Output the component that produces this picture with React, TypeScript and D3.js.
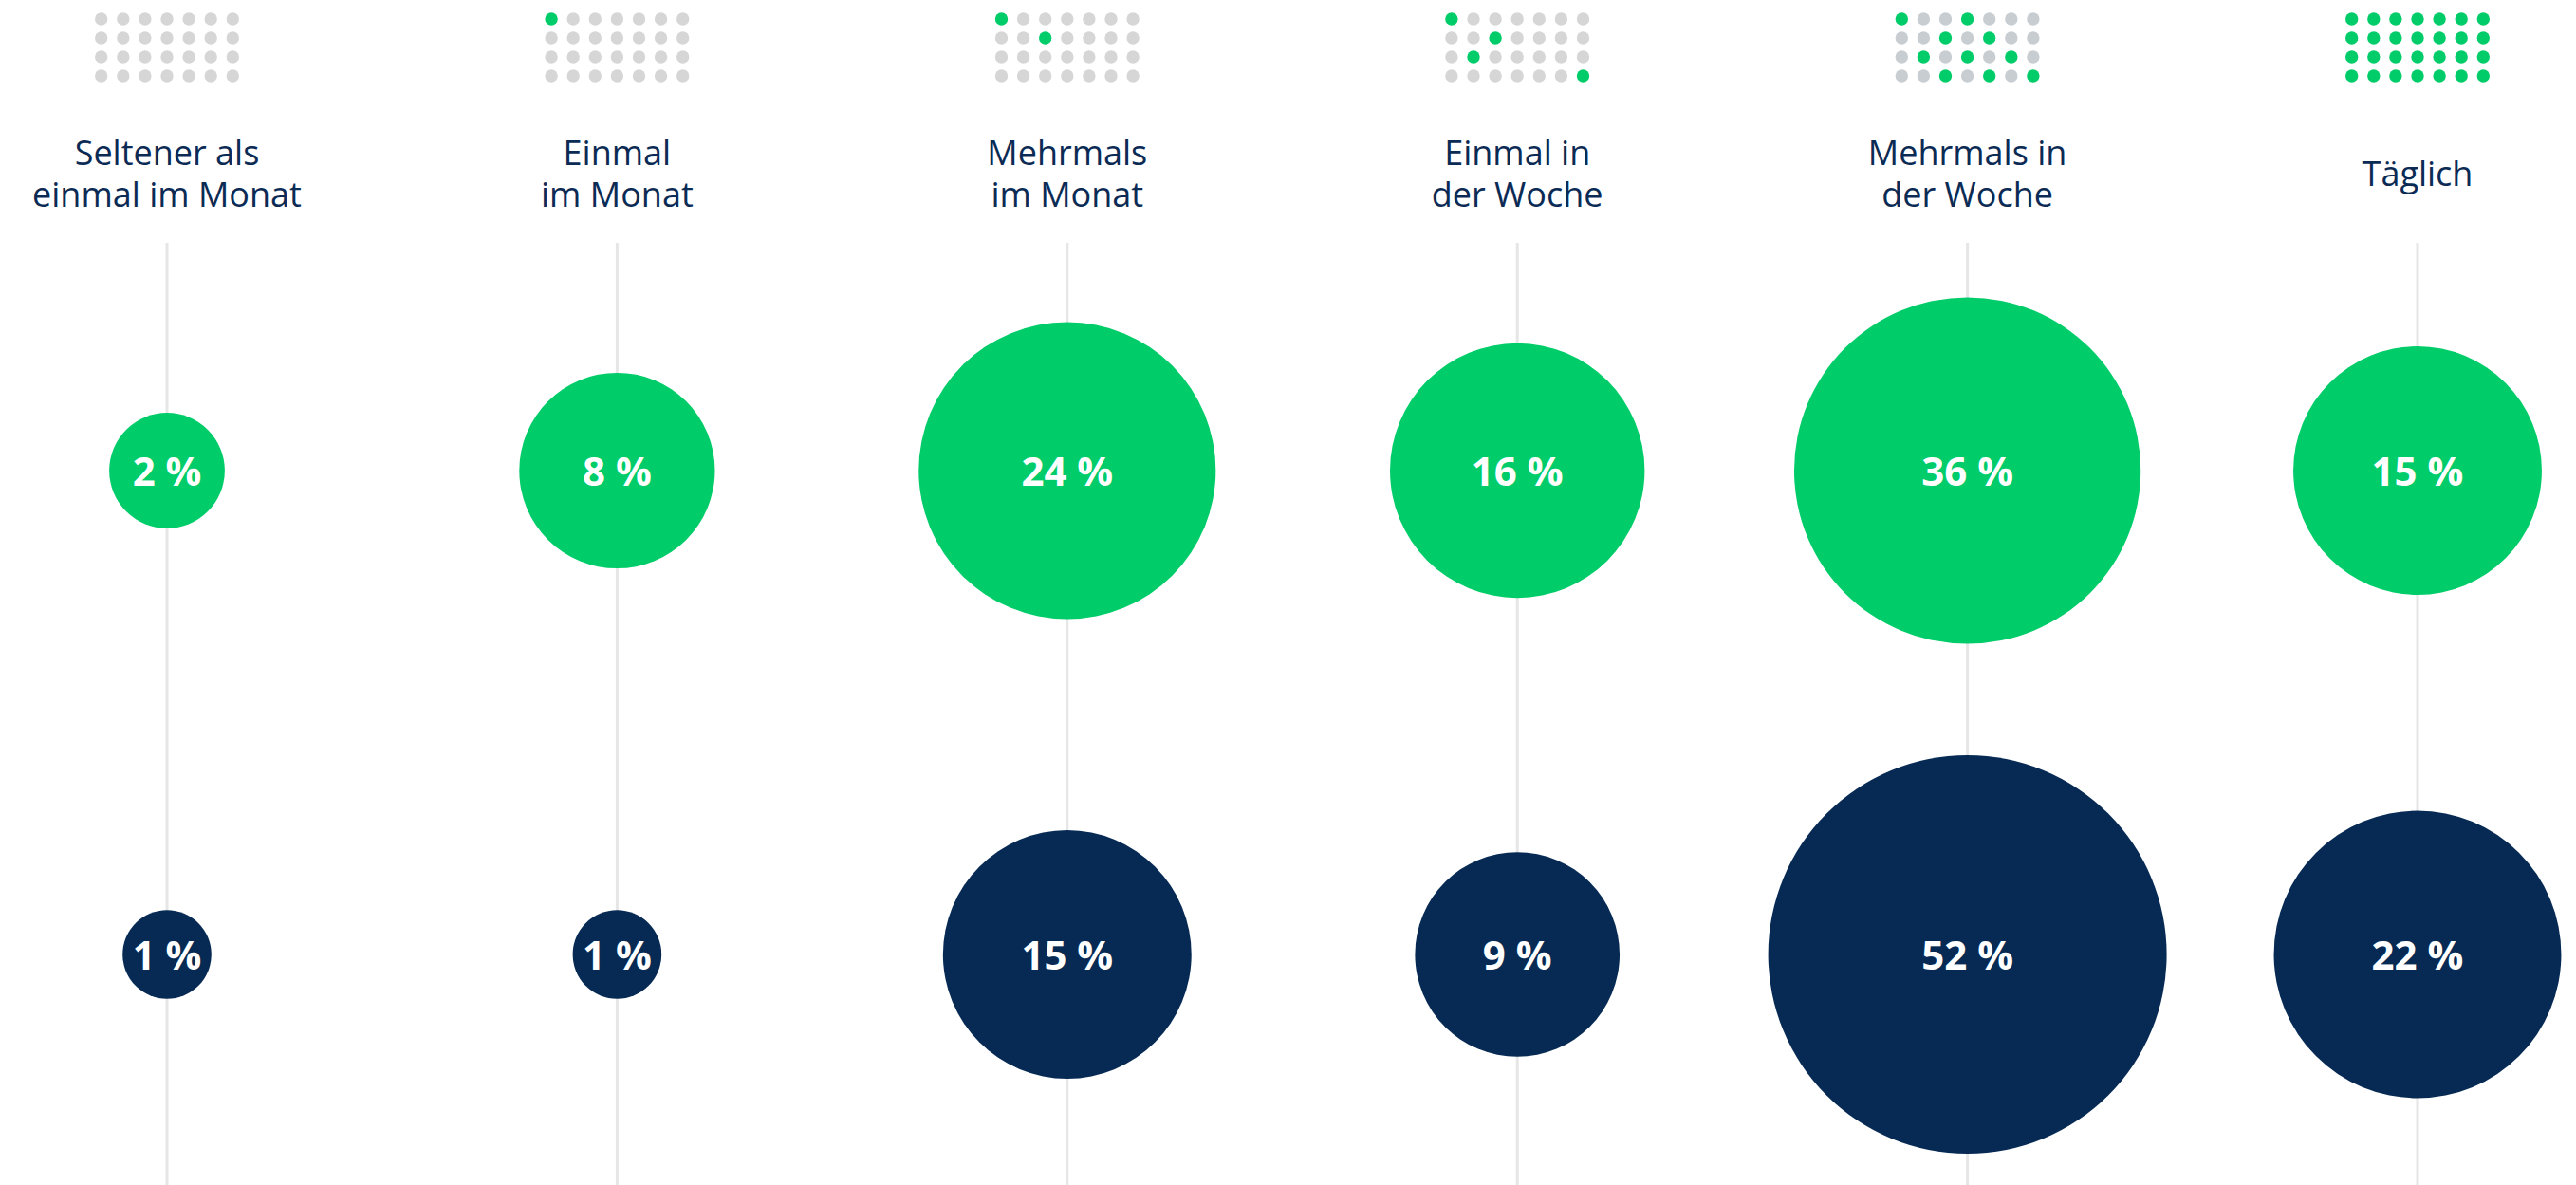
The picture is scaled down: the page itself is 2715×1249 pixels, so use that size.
import React, { useEffect } from 'react'
import * as d3 from 'd3'

// Häufigkeit – zwei Gruppen (grün / dunkelblau)
const categories = [
    'Seltener als einmal im Monat',
    'Einmal im Monat',
    'Mehrmals im Monat',
    'Einmal in der Woche',
    'Mehrmals in der Woche',
    'Täglich',
]
const labelLines = [
    ['Seltener als', 'einmal im Monat'],
    ['Einmal', 'im Monat'],
    ['Mehrmals', 'im Monat'],
    ['Einmal in', 'der Woche'],
    ['Mehrmals in', 'der Woche'],
    ['Täglich'],
]
const greenValues = [2, 8, 24, 16, 36, 15]
const navyValues = [1, 1, 15, 9, 52, 22]

// aktive Tage im 7x4 Raster (Index = Zeile * 7 + Spalte)
const activeDays = [
    [],
    [0],
    [0, 9],
    [0, 9, 15, 27],
    [0, 3, 9, 11, 15, 17, 19, 23, 25, 27],
    [0, 1, 2, 3, 4, 5, 6, 7, 8, 9, 10, 11, 12, 13, 14, 15, 16, 17, 18, 19, 20, 21, 22, 23, 24, 25, 26, 27],
]
const gridCells = Array.from({ length: 28 }, (_, i) => i)

const W = 2715
const H = 1249
const GREEN = '#00cc69'
const NAVY = '#062a53'
const TEXT = '#0b2b55'

export default function App() {
    useEffect(() => {
        document.body.style.margin = '0'
    }, [])

    const x = d3.scalePoint().domain(categories).range([176, 2548])
    const rowY = d3.scalePoint().domain(['green', 'navy']).range([496, 1006])
    const r = d3.scalePow().exponent(0.38).domain([0, 52]).range([0, 210])
    const gx = d3.scaleLinear().domain([0, 6]).range([-69.3, 69.3])
    const gy = d3.scaleLinear().domain([0, 3]).range([20, 80])

    const rows = [
        { key: 'green', values: greenValues, color: GREEN },
        { key: 'navy', values: navyValues, color: NAVY },
    ]

    return (
        <svg width={W} height={H} style={{ display: 'block', fontFamily: '"Open Sans", sans-serif' }}>
            <rect width={W} height={H} fill="#fff" />
            {categories.map((c, i) => {
                const cx = x(c)
                const on = new Set(activeDays[i])
                const grey = i === 4 ? '#c8cdd2' : '#d6d6d6'
                return (
                    <g key={c}>
                        <line x1={cx} x2={cx} y1={256} y2={H} stroke="#e6e6e6" strokeWidth={3} />
                        {gridCells.map(k => (
                            <circle key={k} cx={cx + gx(k % 7)} cy={gy(Math.floor(k / 7))} r={6.7}
                                fill={on.has(k) ? GREEN : grey} />
                        ))}
                        <text textAnchor="middle" fill={TEXT} fontSize={36}>
                            {labelLines[i].map((t, j) => (
                                <tspan key={j} x={cx}
                                    y={(labelLines[i].length === 1 ? 195.5 : 174) + j * 44}>{t}</tspan>
                            ))}
                        </text>
                    </g>
                )
            })}
            {rows.map(row => (
                <g key={row.key}>
                    {row.values.map((v, i) => (
                        <g key={i} transform={`translate(${x(categories[i])},${rowY(row.key)})`}>
                            <circle r={r(v)} fill={row.color} />
                            <text textAnchor="middle" dy="0.38em" fill="#fff" fontSize={42} fontWeight={700}>
                                {v} %
                            </text>
                        </g>
                    ))}
                </g>
            ))}
        </svg>
    )
}
